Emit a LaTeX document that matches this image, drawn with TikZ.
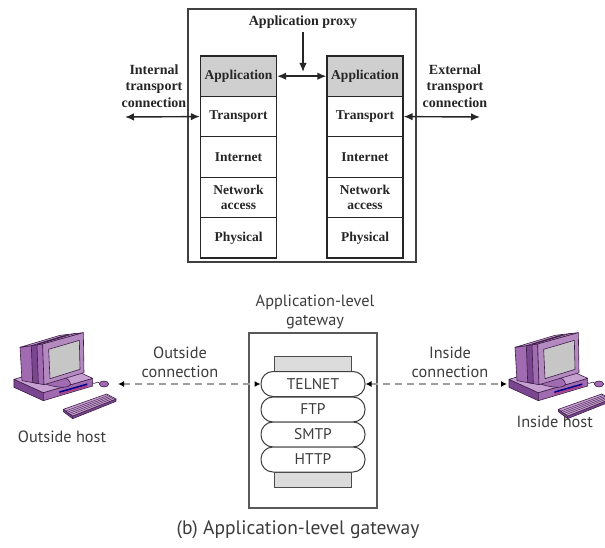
\documentclass[tikz,border=0pt]{standalone}
\usepackage{fontspec}
\setmainfont{Liberation Serif}
\newfontfamily\gwfont{PT Sans}
\usetikzlibrary{arrows.meta,calc}

\definecolor{pL}{HTML}{C7A0D2}
\definecolor{pM}{HTML}{A06BB0}
\definecolor{pD}{HTML}{7A4690}
\definecolor{pO}{HTML}{3D1D47}
\definecolor{barfill}{HTML}{DCDCDC}
\definecolor{cellgray}{HTML}{CFCFCF}
\definecolor{gwtext}{HTML}{3C3C3C}

\tikzset{
  computer/.pic={
    \begin{scope}[scale=1/3, draw=pO, line width=0.6pt, line join=round]
      % base
      \filldraw[fill=pD] (42,148) -- (130,188) -- (130,212) -- (42,172) -- cycle;
      \filldraw[fill=pM] (130,188) -- (278,145) -- (278,168) -- (130,212) -- cycle;
      \filldraw[fill=pL] (42,148) -- (190,105) -- (278,145) -- (130,188) -- cycle;
      \fill[blue!55!black] (178,184) -- (262,160) -- (262,165) -- (178,189) -- cycle;
      \fill[magenta!70!black] (178,190) -- (262,166) -- (262,170) -- (178,194) -- cycle;
      \filldraw[fill=pM] (152,146) ellipse[x radius=62, y radius=20, rotate=-16];
      % monitor
      \filldraw[fill=pM] (60,52) -- (128,42) -- (132,164) -- (66,152) -- cycle;
      \filldraw[fill=pD] (94,47) -- (111,44) -- (115,161) -- (98,157) -- cycle;
      \filldraw[fill=pL] (60,52) -- (180,16) -- (250,8) -- (128,42) -- cycle;
      \draw (94,47) -- (205,13) (111,44) -- (226,10);
      \filldraw[fill=pM!80!white] (128,42) -- (250,8) -- (252,128) -- (132,164) -- cycle;
      \filldraw[fill=gray!45] (146,58) -- (238,31) -- (240,118) -- (150,146) -- cycle;
      % mouse and cord
      \draw (300,160) .. controls (290,150) and (285,166) .. (276,158);
      \filldraw[fill=pM] (312,162) ellipse[x radius=14, y radius=9];
      % keyboard
      \filldraw[fill=pD] (190,238) -- (218,258) -- (218,266) -- (190,245) -- cycle;
      \filldraw[fill=pD] (218,258) -- (348,207) -- (348,214) -- (218,266) -- cycle;
      \filldraw[fill=pL] (190,238) -- (320,192) -- (348,207) -- (218,258) -- cycle;
      \foreach \t in {0.25,0.45,0.65,0.85}
        \draw[line width=0.4pt] ($(192,238)!\t!(218,256)$) -- ($(318,193)!\t!(344,207)$);
    \end{scope}
  },
  layer/.style={draw=black!85, line width=1.3pt, minimum width=76pt,
    minimum height=40.4pt, inner sep=0pt, align=center, text=black!85,
    font=\bfseries\fontsize{13.5}{15.5}\selectfont},
  applayer/.style={layer, fill=cellgray},
  serlabel/.style={align=center, text=black!85,
    font=\bfseries\fontsize{14}{16.5}\selectfont},
  solidarrow/.style={line width=1.4pt, black!85,
    {Latex[length=9pt,width=7.5pt]}-{Latex[length=9pt,width=7.5pt]}},
  downarrow/.style={line width=1.4pt, black!85, -{Latex[length=9pt,width=7.5pt]}},
  gwlabel/.style={align=center, text=gwtext, font=\gwfont\fontsize{16.3}{19}\selectfont},
  pill/.style={draw=black!75, line width=1pt, fill=white, rounded corners=12pt,
    minimum width=104pt, minimum height=25pt, inner sep=0pt, text=gwtext,
    font=\gwfont\fontsize{15.5}{17}\selectfont},
  bar/.style={draw=black!70, line width=1pt, fill=barfill},
  dasharrow/.style={gray!75, line width=1.8pt, dash pattern=on 7pt off 5pt,
    {Latex[length=6pt,width=6pt,color=black]}-{Latex[length=6pt,width=6pt,color=black]}}
}

\begin{document}
\begin{tikzpicture}[x=1pt, y=-1pt]
\useasboundingbox (0,0) rectangle (605,548);
\clip (0,0) rectangle (605,548);

% ---------- application proxy ----------
\draw[black!75, line width=1.2pt] (188,9) rectangle (416,262);

\node[applayer] (la) at (238.5,76.2)  {Application};
\node[layer]    (lt) at (238.5,116.6) {Transport};
\node[layer]    (li) at (238.5,157)   {Internet};
\node[layer]    (ln) at (238.5,197.4) {Network\\access};
\node[layer]    (lp) at (238.5,237.8) {Physical};

\node[applayer] (ra) at (365,76.2)  {Application};
\node[layer]    (rt) at (365,116.6) {Transport};
\node[layer]    (ri) at (365,157)   {Internet};
\node[layer]    (rn) at (365,197.4) {Network\\access};
\node[layer]    (rp) at (365,237.8) {Physical};

\node[serlabel] (proxy) at (303,22) {Application proxy};
\coordinate (proxyend) at (303,72);
\draw[downarrow] (proxy.south) -- (proxyend);
\draw[solidarrow] (la.east) -- (ra.west);

\node[serlabel] (intl) at (154,86) {Internal\\transport\\connection};
\node[serlabel] (extl) at (455,86) {External\\transport\\connection};
\coordinate (intend) at (125,117);
\coordinate (extend) at (480,117);
\draw[solidarrow] (intend) -- (lt.west);
\draw[solidarrow] (rt.east) -- (extend);

% ---------- application-level gateway ----------
\node[gwlabel] (gwl) at (315,312) {Application-level\\gateway};
\draw[black!65, line width=1.3pt] (249,333) rectangle (377,508);
\draw[bar] (274,356) rectangle (351,371);
\draw[bar] (274,472) rectangle (351,487);

\node[pill] (telnet) at (313,384)   {TELNET};
\node[pill] (ftp)    at (313,409.5) {FTP};
\node[pill] (smtp)   at (313,434.5) {SMTP};
\node[pill] (http)   at (313,459.5) {HTTP};

\pic at (0,330) {computer};
\pic at (495,330) {computer};
\coordinate (outhost) at (118,384);
\coordinate (inhost) at (507,384);

\node[gwlabel] (outlab) at (180,362) {Outside\\connection};
\node[gwlabel] (inlab) at (450,362) {Inside\\connection};
\draw[dasharrow] (outhost) -- (telnet.west);
\draw[dasharrow] (telnet.east) -- (inhost);

\node[gwlabel] (outname) at (62,437) {Outside host};
\node[gwlabel, anchor=west] (inname) at (513,422) {Inside host};

\node[gwlabel, font=\gwfont\fontsize{19.5}{22}\selectfont] (caption) at (298,530)
  {(b) Application-level gateway};
\end{tikzpicture}
\end{document}
